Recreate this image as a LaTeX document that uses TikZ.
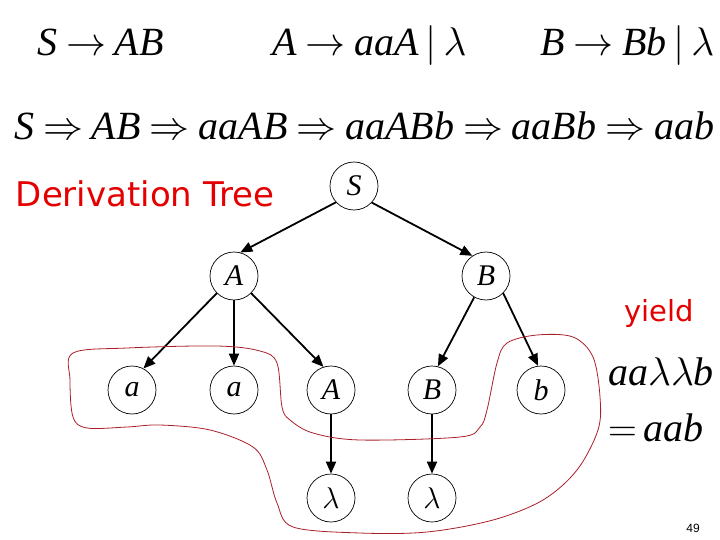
\RequirePackage{fix-cm}
\documentclass[tikz,border=0pt]{standalone}
\usepackage{fontspec}
\setmainfont{Liberation Serif}
\newfontfamily\comicf{DejaVu Sans}
\newfontfamily\arialf{Liberation Sans}
\usetikzlibrary{arrows.meta}
\definecolor{tred}{RGB}{228,0,0}
\definecolor{curvered}{RGB}{170,30,40}
\newcommand{\bigfont}{\fontsize{40}{48}\selectfont}
\begin{document}
\begin{tikzpicture}[x=1pt,y=-1pt,
  tnode/.style={circle,draw,line width=0.7pt,minimum size=48pt,inner sep=0pt,font=\fontsize{30}{34}\selectfont\itshape},
  edge/.style={line width=1.8pt,-{Triangle[length=12pt,width=10pt]}},
  formula/.style={anchor=base west,inner sep=0pt,font=\bigfont},
  redtext/.style={text=tred,inner sep=0pt}]
\useasboundingbox (0,0) rectangle (720,540);
% grammar
\node[formula] (g1) at (37,56) {\textit{S}\:$\rightarrow$\:\textit{AB}};
\node[formula] (g2) at (272,56) {\textit{A}\:$\rightarrow$\:\textit{aaA}\,$|$\,$\lambda$};
\node[formula] (g3) at (540,56) {\textit{B}\:$\rightarrow$\:\textit{Bb}\,$|$\,$\lambda$};
% derivation
\node[formula] (der) at (14,140) {\textit{S}\:$\Rightarrow$\:\textit{AB}\:$\Rightarrow$\:\textit{aaAB}\:$\Rightarrow$\:\textit{aaABb}\:$\Rightarrow$\:\textit{aaBb}\:$\Rightarrow$\:\textit{aab}};
\node[redtext,font=\comicf\fontsize{34}{40}\selectfont] (dt) at (145,194) {Derivation Tree};
\node[redtext,font=\comicf\fontsize{29}{34}\selectfont] (yl) at (659,313) {yield};
\node[formula] (y1) at (608,385) {\textit{aa}$\lambda\lambda$\textit{b}};
\node[formula] (y2) at (608,441) {$=$\,\textit{aab}};
\node[inner sep=0pt,font=\arialf\fontsize{12}{14}\selectfont] (pg) at (693,528) {49};
% tree
\node[tnode] (S) at (354,186) {S};
\node[tnode] (A) at (234,276) {A};
\node[tnode] (B) at (486,276) {B};
\node[tnode] (a1) at (132,390) {a};
\node[tnode] (a2) at (234,390) {a};
\node[tnode] (A2) at (331,390) {A};
\node[tnode] (B2) at (432,390) {B};
\node[tnode] (b) at (541,390) {b};
\node[tnode] (l1) at (331,498) {$\lambda$};
\node[tnode] (l2) at (432,498) {$\lambda$};
\draw[edge] (S.222) -- (A.75);
\draw[edge] (S.317) -- (B.124);
\draw[edge] (A.225) -- (a1.62);
\draw[edge] (A.270) -- (a2.90);
\draw[edge] (A.315) -- (A2.108);
\draw[edge] (B.241) -- (B2.76);
\draw[edge] (B.315) -- (b.97);
\draw[edge] (A2.270) -- (l1.90);
\draw[edge] (B2.270) -- (l2.90);
% yield curve
\draw[curvered,line width=0.8pt] plot[smooth cycle,tension=0.55] coordinates {
 (73,353) (127,348) (217,346) (260,351) (277,363) (282,407) (290,420) (313,433) (360,440)
 (460,437) (480,427) (487,410) (497,363) (507,343) (537,335) (573,337) (593,357) (600,397)
 (598,430) (577,470) (543,500) (493,520) (427,532) (360,533) (293,527) (277,503) (267,470)
 (253,447) (210,430) (160,425) (127,427) (87,428) (73,417) (70,380)};
\end{tikzpicture}
\end{document}
